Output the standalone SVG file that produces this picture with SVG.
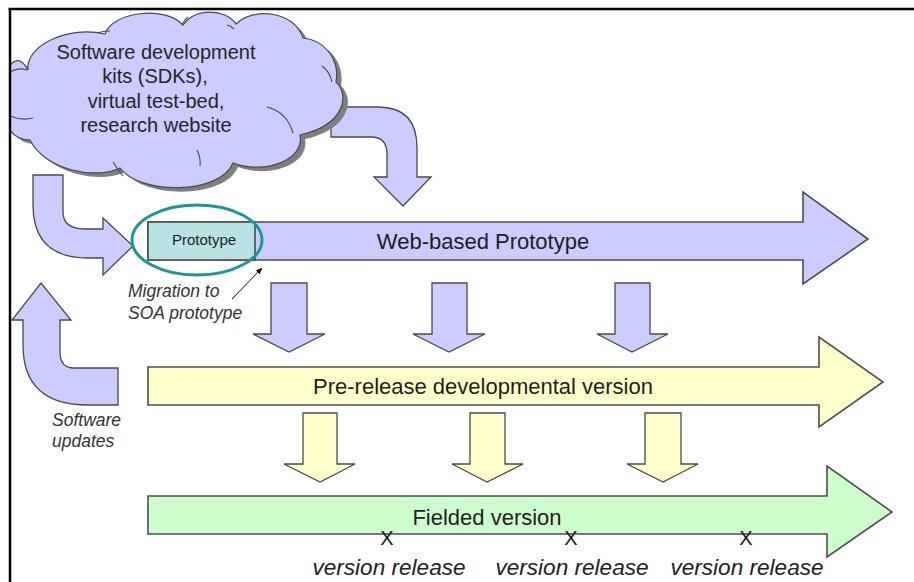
<svg xmlns="http://www.w3.org/2000/svg" width="914" height="582" viewBox="0 0 914 582">
  <style>
    .lav { fill: #ccccff; stroke: #4a4a4a; stroke-width: 1.3; stroke-linejoin: miter; }
    .yel { fill: #ffffcc; stroke: #4a4a4a; stroke-width: 1.3; }
    .grn { fill: #ccffcc; stroke: #4a4a4a; stroke-width: 1.3; }
    .band-lav { fill: #ccccff; stroke: #4d4d4d; stroke-width: 1.6; }
    .band-yel { fill: #ffffcc; stroke: #4d4d4d; stroke-width: 1.6; }
    .band-grn { fill: #ccffcc; stroke: #4d4d4d; stroke-width: 1.6; }
    .big { font-family: "Liberation Sans", Arial, sans-serif; font-size: 22px; fill: #1e1e1e; text-anchor: middle; }
    .cloudtxt { font-family: "Liberation Sans", Arial, sans-serif; font-size: 20px; fill: #262626; text-anchor: middle; }
    .note { font-family: "Liberation Sans", Arial, sans-serif; font-size: 17.5px; font-style: italic; fill: #333333; }
    .rel { font-family: "Liberation Sans", Arial, sans-serif; font-size: 22.6px; font-style: italic; fill: #222222; text-anchor: middle; }
    .mark { font-family: "Liberation Sans", Arial, sans-serif; font-size: 20px; fill: #1a1a1a; text-anchor: middle; }
    .inner { fill: none; stroke: #4a4a4a; stroke-width: 1.1; }
  </style>
  <defs>
    <clipPath id="frameClip">
      <rect x="10" y="9" width="904" height="573"/>
    </clipPath>
    <marker id="tip" viewBox="0 0 10 10" refX="9" refY="5" markerWidth="7" markerHeight="7" orient="auto">
      <path d="M0,1 L10,5 L0,9 Z" fill="#111111"/>
    </marker>
    <path id="cloudShape" d="M-5,72 L5,72
      C12,60 20,55 28,70
      C25,45 70,25 105,34
      C112,12 165,5 183,25
      C195,8 225,8 236,24
      C255,6 295,12 303,38
      C325,40 340,60 336,82
      C350,95 345,125 300,135
      C305,160 265,175 233,163
      C220,195 140,195 120,168
      C95,180 45,170 30,140
      C20,140 10,135 5,120
      L-5,120 Z"/>
  </defs>

  <!-- page frame -->
  <rect x="0" y="0" width="914" height="582" fill="#ffffff"/>

  <!-- connectors: bent and block arrows -->
  <g id="connectors">
    <!-- cloud down into the prototype -->
    <path class="lav" d="M33,175 L33,205 Q33,258 88,258 L103,258 L103,275 L133,246 L103,218 L103,229 L85,229 Q63,229 63,212 L63,175 Z"/>
    <!-- cloud over onto the web-based band -->
    <path class="lav" d="M331,107 L378,107 Q417,107 417,148 L417,177 L431,177 L403,206 L374,177 L387,177 L387,154 Q387,137 371,137 L331,137 Z"/>
    <!-- software updates, curving up -->
    <path class="lav" d="M118,368 L74,368 Q60,368 60,352 L60,320 L71,320 L41,283 L12,320 L23,320 L23,345 Q23,405 88,405 L118,405 Z" clip-path="url(#frameClip)"/>

    <!-- web-based prototype to pre-release -->
    <path class="lav" d="M271,283 L307,283 L307,334 L325,334 L289,352 L253,334 L271,334 Z"/>
    <path class="lav" d="M432,283 L467,283 L467,334 L485,334 L449,352 L413,334 L432,334 Z"/>
    <path class="lav" d="M615,283 L650,283 L650,334 L668,334 L632,352 L597,334 L615,334 Z"/>

    <!-- pre-release to fielded -->
    <path class="yel" d="M303,413 L337,413 L337,464 L355,464 L320,482 L284,464 L303,464 Z"/>
    <path class="yel" d="M470,413 L505,413 L505,464 L523,464 L487,482 L452,464 L470,464 Z"/>
    <path class="yel" d="M645,413 L681,413 L681,464 L698,464 L663,482 L627,464 L645,464 Z"/>

    <!-- pointer to the migration note -->
    <line x1="232" y1="299" x2="262" y2="268" stroke="#111111" stroke-width="1" marker-end="url(#tip)"/>
  </g>

  <!-- resource cloud -->
  <g id="cloud" clip-path="url(#frameClip)">
    <use href="#cloudShape" transform="translate(5,4)" fill="#7f7f7f"/>
    <use href="#cloudShape" fill="#ccccff" stroke="#4a4a4a" stroke-width="1.2"/>
    <path class="inner" d="M10,72 Q18,67 27,70"/>
    <path class="inner" d="M10,116 Q22,121 33,118"/>
    <path class="inner" d="M97,33 Q103,31 110,31"/>
    <path class="inner" d="M182,25 Q184,20 188,17"/>
    <path class="inner" d="M227,25 Q231,26 234,29"/>
    <path class="inner" d="M322,66 Q330,72 332,82"/>
    <path class="inner" d="M267,107 Q287,112 293,133"/>
    <path class="inner" d="M197,150 Q201,158 200,166"/>
    <path class="inner" d="M113,162 Q118,170 123,176"/>
    <text class="cloudtxt" x="156" y="59">Software development</text>
    <text class="cloudtxt" x="155" y="83">kits (SDKs),</text>
    <text class="cloudtxt" x="156" y="108">virtual test-bed,</text>
    <text class="cloudtxt" x="156" y="132">research website</text>
  </g>

  <!-- web-based prototype band -->
  <g id="web-prototype">
    <path class="band-lav" d="M148,222 L803,222 L803,192 L868,239 L803,284 L803,260 L148,260 Z"/>
    <text class="big" x="483" y="249">Web-based Prototype</text>
  </g>

  <!-- initial prototype segment -->
  <g id="prototype">
    <rect x="148" y="222" width="107" height="38" fill="#b9e3e3" stroke="#4d4d4d" stroke-width="1.6"/>
    <text x="204" y="245" font-family="Liberation Sans, Arial, sans-serif" font-size="15" fill="#1e1e1e" text-anchor="middle">Prototype</text>
    <ellipse cx="197" cy="240" rx="65" ry="35" fill="none" stroke="#17999a" stroke-width="3"/>
  </g>

  <!-- pre-release band -->
  <g id="pre-release">
    <path class="band-yel" d="M148,367 L819,367 L819,337 L883,382 L819,427 L819,405 L148,405 Z"/>
    <text class="big" x="483" y="394">Pre-release developmental version</text>
  </g>

  <!-- fielded band with release points -->
  <g id="fielded">
    <path class="band-grn" d="M148,496 L827,496 L827,466 L892,512 L827,557 L827,534 L148,534 Z"/>
    <text class="big" x="487" y="525">Fielded version</text>
    <text class="mark" x="387" y="545">X</text>
    <text class="mark" x="571" y="545">X</text>
    <text class="mark" x="746" y="545">X</text>
    <text class="rel" x="389" y="575">version release</text>
    <text class="rel" x="572" y="575">version release</text>
    <text class="rel" x="747" y="575">version release</text>
  </g>

  <!-- side notes -->
  <g id="migration-note">
    <text class="note" x="128" y="297">Migration to</text>
    <text class="note" x="128" y="319">SOA prototype</text>
  </g>
  <g id="updates-note">
    <text class="note" x="52" y="426">Software</text>
    <text class="note" x="52" y="447">updates</text>
  </g>

  <!-- frame edges -->
  <line x1="8.5" y1="9" x2="914" y2="9" stroke="#000000" stroke-width="2.5"/>
  <line x1="10" y1="9" x2="10" y2="582" stroke="#000000" stroke-width="2.5"/>
</svg>
